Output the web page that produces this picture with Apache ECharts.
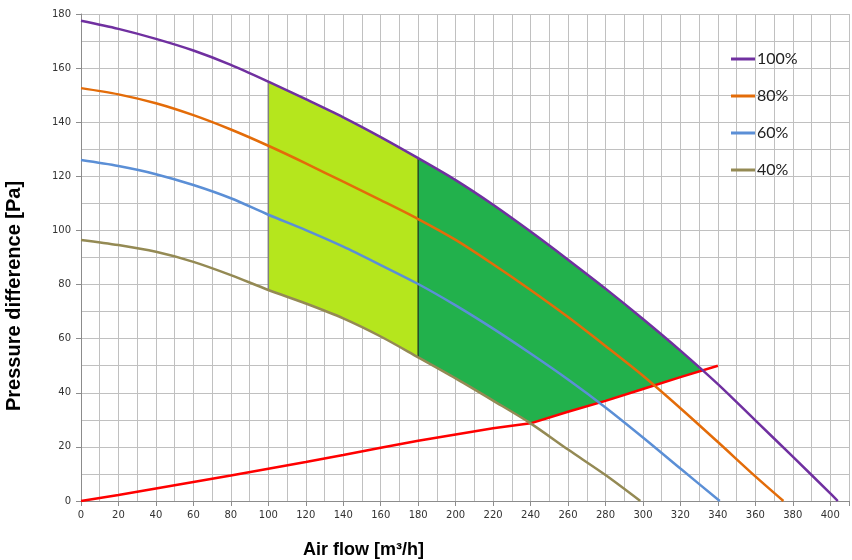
<!DOCTYPE html>
<html><head><meta charset="utf-8">
<script src="https://cdn.jsdelivr.net/npm/echarts@6/dist/echarts.min.js"></script>
<style>html,body{margin:0;padding:0;background:#fff}#c{width:852px;height:560px}</style>
</head><body><div id="c"></div>
<script>
// ---- data ----
const flow100 = [0,20,40,60,80,100,120,140,160,180,200,220,240,260,280,300,320,340,360,380,400,404];
const p100    = [177.5,174.5,170.8,166.5,161.2,155,148.5,141.8,134.5,126.7,118.6,109.5,99.6,89.2,78.5,67.3,55.6,43.2,29.8,16.4,2.8,0];
const flow80  = [0,20,40,60,80,100,120,140,160,180,200,220,240,260,280,300,320,340,360,375];
const p80     = [152.6,150.3,147,142.6,137.3,131.3,124.8,118,111.2,104.2,96.5,87.5,78,68,57.3,46.3,34.3,21.8,9.1,0];
const flow60  = [0,20,40,60,80,100,120,140,160,180,200,220,240,260,280,300,320,341];
const p60     = [126,123.8,120.8,116.8,111.9,105.8,100.1,94,87.2,80.2,72.3,63.7,54.5,44.9,34.6,23.5,12,0];
const flow40  = [0,20,40,60,80,100,120,140,160,180,200,220,240,260,280,298.6];
const p40     = [96.5,94.6,92.1,88.4,83.5,78,73,67.5,60.8,53.1,45.3,37.1,28.7,19,9.6,0];
const flowSys = [0,20,40,60,80,100,120,140,160,180,200,220,240,260,280,300,320,340];
const pSys    = [0,2.2,4.6,7.0,9.4,11.9,14.4,17,19.7,22.3,24.6,26.9,28.7,33,37,41.4,45.8,50];
const opEnd   = [332, 48.4];        // where the 100% curve meets the system curve
const zoneA   = [100, 180];         // light green zone flow range
const zoneB   = [180, 240];         // dark green zone: bounded below by 40% until 240, then system curve
const seriesNames = ['100%','80%','60%','40%'];
const xTicks = {min:0, max:410, interval:20};
const yTicks = {min:0, max:180, interval:20};

const pairs = (xs, ys) => xs.map((x,i)=>[x, ys[i]]);
const pick = (xs, ys, a, b) => pairs(xs, ys).filter(p => p[0] >= a && p[0] <= b);

// polygons built from the curves
const polyA = pick(flow100,p100,zoneA[0],zoneA[1]).concat(pick(flow40,p40,zoneA[0],zoneA[1]).reverse());
const upperB = pick(flow100,p100,zoneB[0],opEnd[0]).concat([opEnd]);
const lowerB = pick(flow40,p40,zoneB[0],zoneB[1]).concat(pick(flowSys,pSys,zoneB[1]+1,opEnd[0]-1));
const polyB = upperB.concat(lowerB.reverse());

const chart = echarts.init(document.getElementById('c'), null, {renderer:'canvas'});
const lineSeries = (name, data, color) => ({
  name, type:'line', data, smooth:0.3, showSymbol:false, symbol:'none',
  lineStyle:{color, width:2.5}, itemStyle:{color}, z:5, silent:true
});
chart.setOption({
  animation:false,
  grid:{left:81, right:1, top:14, bottom:59, containLabel:false},
  legend:{
    orient:'vertical', left:731, top:51, padding:0, itemGap:21, itemWidth:24, itemHeight:3, icon:'rect',
    data:seriesNames, selectedMode:false,
    textStyle:{fontFamily:'Lato', fontSize:16, color:'#222', padding:[0,0,0,-3]}
  },
  xAxis:[{
    type:'value', min:xTicks.min, max:xTicks.max, interval:xTicks.interval,
    axisLine:{show:true, lineStyle:{color:'#8c8c8c', width:1}},
    axisTick:{show:true, length:5, lineStyle:{color:'#8c8c8c'}},
    axisLabel:{fontFamily:'DejaVu Sans', fontSize:10, color:'#333', margin:9,
      formatter:v => v>400 ? '' : String(v)},
    splitLine:{show:false}
  },{
    type:'value', min:xTicks.min, max:xTicks.max, interval:xTicks.interval/2,
    axisLine:{show:false}, axisTick:{show:false}, axisLabel:{show:false},
    splitLine:{show:true, lineStyle:{color:'#c0c0c0', width:1}}
  }],
  yAxis:{
    type:'value', min:yTicks.min, max:yTicks.max, interval:yTicks.interval,
    axisLine:{show:true, lineStyle:{color:'#8c8c8c', width:1}},
    axisTick:{show:true, length:5, lineStyle:{color:'#8c8c8c'}},
    axisLabel:{fontFamily:'DejaVu Sans', fontSize:10, color:'#333', margin:10},
    splitLine:{show:true, lineStyle:{color:'#c0c0c0', width:1}},
    minorTick:{show:false, splitNumber:2},
    minorSplitLine:{show:true, lineStyle:{color:'#c0c0c0', width:1}}
  },
  graphic:[
    {type:'text', left:303, top:541, style:{text:'Air flow [m³/h]', font:'bold 18px "Liberation Sans", Arial', fill:'#000'}},
    {type:'text', rotation:Math.PI/2, x:4, y:411, style:{text:'Pressure difference [Pa]', font:'bold 20px "Liberation Sans", Arial', fill:'#000', textAlign:'left', textVerticalAlign:'top'}}
  ],
  series:[
    {type:'custom', name:'zones', silent:true, z:1, data:[0],
      renderItem:(params, api) => {
        const pa = polyA.map(p=>api.coord(p));
        const pb = polyB.map(p=>api.coord(p));
        const a0 = api.coord([zoneA[0], p40[flow40.indexOf(zoneA[0])]]);
        const a1 = api.coord([zoneA[0], p100[flow100.indexOf(zoneA[0])]]);
        const b0 = api.coord([zoneA[1], p40[flow40.indexOf(zoneA[1])]]);
        const b1 = api.coord([zoneA[1], p100[flow100.indexOf(zoneA[1])]]);
        return {type:'group', children:[
          {type:'polygon', shape:{points:pa}, style:{fill:'#b5e61d', stroke:null}},
          {type:'polygon', shape:{points:pb}, style:{fill:'#22b14c', stroke:null}},
          {type:'line', shape:{x1:a0[0],y1:a0[1],x2:a1[0],y2:a1[1]}, style:{stroke:'#808080', lineWidth:1.5}},
          {type:'line', shape:{x1:b0[0],y1:b0[1],x2:b1[0],y2:b1[1]}, style:{stroke:'#254a25', lineWidth:1.5}}
        ]};
      }
    },
    Object.assign(lineSeries('system', pairs(flowSys,pSys), '#ff0000'), {smooth:false, z:4}),
    lineSeries(seriesNames[3], pairs(flow40,p40), '#948a54'),
    lineSeries(seriesNames[2], pairs(flow60,p60), '#5b8fd6'),
    lineSeries(seriesNames[1], pairs(flow80,p80), '#e36c09'),
    lineSeries(seriesNames[0], pairs(flow100,p100), '#7030a0')
  ]
});
</script></body></html>
